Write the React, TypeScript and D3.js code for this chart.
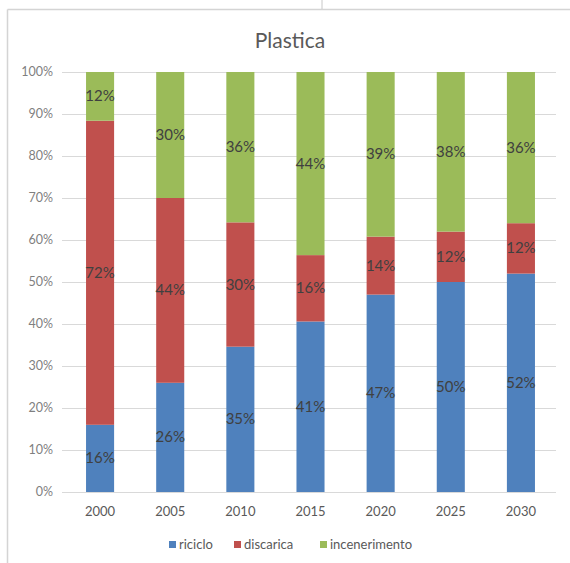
import React from "react";
import * as d3 from "d3";

const years = ["2000", "2005", "2010", "2015", "2020", "2025", "2030"];
const riciclo = [16, 26, 34.6, 40.6, 47, 50, 52];
const discarica = [72.4, 44, 29.6, 15.8, 13.8, 12, 12];
const incenerimento = [11.6, 30, 35.8, 43.6, 39.2, 38, 36];
const seriesNames = ["riciclo", "discarica", "incenerimento"];
const seriesColors = ["#4f81bd", "#c0504d", "#9bbb59"];
const yTicks = [0, 0.1, 0.2, 0.3, 0.4, 0.5, 0.6, 0.7, 0.8, 0.9, 1];

const W = 570;
const H = 563;
const FONT = "Lato, 'Open Sans', sans-serif";

export default function App() {
  const rows = years.map((y, i) => ({
    year: y,
    riciclo: riciclo[i],
    discarica: discarica[i],
    incenerimento: incenerimento[i],
  }));
  const stack = d3.stack<any>().keys(seriesNames).offset(d3.stackOffsetExpand);
  const layers = stack(rows);

  const x = d3.scaleBand<string>().domain(years).range([65, 556]).paddingInner(0.6).paddingOuter(0.3);
  const y = d3.scaleLinear().domain([0, 1]).range([492, 72]);
  const fmt = d3.format(".0%");

  const legendItems = [
    { name: "riciclo", x: 169 },
    { name: "discarica", x: 234 },
    { name: "incenerimento", x: 320 },
  ];

  return (
    <svg
      width={W}
      height={H}
      style={{ position: "absolute", left: 0, top: 0, background: "#fff" }}
      fontFamily={FONT}
    >
      <rect x={0} y={0} width={W} height={H} fill="#fff" />
      {/* frame */}
      <line x1={7.5} y1={9.5} x2={W} y2={9.5} stroke="#d4d4d4" strokeWidth={1.5} />
      <line x1={7.5} y1={9.5} x2={7.5} y2={H} stroke="#d4d4d4" strokeWidth={1.5} />
      <line x1={322} y1={0} x2={322} y2={9} stroke="#c8c8c8" strokeWidth={1} />

      <text x={290} y={48} textAnchor="middle" fontSize={21} fill="#595959">
        Plastica
      </text>

      {/* gridlines */}
      {yTicks.map((t) => (
        <g key={t}>
          <line x1={62} x2={556} y1={Math.round(y(t)) + 0.5} y2={Math.round(y(t)) + 0.5} stroke="#d9d9d9" strokeWidth={1} />
          <text x={53} y={y(t) + 4} textAnchor="end" fontSize={12.5} fill="#7f7f7f">
            {fmt(t)}
          </text>
        </g>
      ))}

      {/* bars */}
      {layers.map((layer, si) => (
        <g key={layer.key}>
          {layer.map((d, i) => (
            <rect
              key={i}
              x={x(years[i])}
              width={x.bandwidth()}
              y={y(d[1])}
              height={y(d[0]) - y(d[1])}
              fill={seriesColors[si]}
            />
          ))}
        </g>
      ))}

      {/* data labels */}
      {layers.map((layer, si) => (
        <g key={"l" + layer.key}>
          {layer.map((d, i) => (
            <text
              key={i}
              x={(x(years[i]) as number) + x.bandwidth() / 2}
              y={y((d[0] + d[1]) / 2) + 5}
              textAnchor="middle"
              fontSize={15}
              fill="#404040"
            >
              {Math.round((d[1] - d[0]) * 100) + "%"}
            </text>
          ))}
        </g>
      ))}

      {/* x labels */}
      {years.map((yr) => (
        <text
          key={yr}
          x={(x(yr) as number) + x.bandwidth() / 2}
          y={516}
          textAnchor="middle"
          fontSize={13}
          fill="#595959"
        >
          {yr}
        </text>
      ))}

      {/* legend */}
      {legendItems.map((it, i) => (
        <g key={it.name}>
          <rect x={it.x} y={541} width={7} height={7} fill={seriesColors[i]} />
          <text x={it.x + 10} y={549} fontSize={13} fill="#595959">
            {it.name}
          </text>
        </g>
      ))}
    </svg>
  );
}
